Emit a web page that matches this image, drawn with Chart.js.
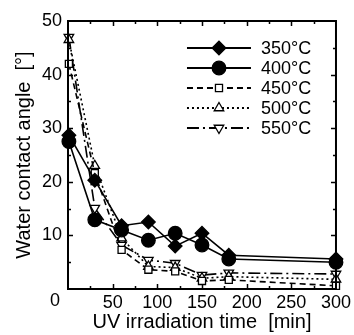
<!DOCTYPE html>
<html>
<head>
<meta charset="utf-8">
<script src="https://cdn.jsdelivr.net/npm/chart.js@4/dist/chart.umd.min.js"></script>
<style>
html,body{margin:0;padding:0;background:#fff;}
canvas{display:block;}
</style>
</head>
<body>
<canvas id="c" width="354" height="335"></canvas>
<script>
// ---- data ----
const times = [1, 30, 60, 90, 120, 150, 180, 300];
const seriesLabels = ['350°C', '400°C', '450°C', '500°C', '550°C'];
const s350 = [28.7, 20.3, 11.8, 12.5, 8.0, 10.4, 6.3, 5.6];
const s400 = [27.5, 12.9, 11.0, 9.1, 10.4, 8.2, 5.6, 5.0];
const s450 = [42.0, 21.6, 7.3, 3.6, 3.3, 1.5, 1.7, 0.6];
const s500 = [46.5, 23.0, 9.5, 4.2, 4.0, 2.0, 2.3, 1.8];
const s550 = [47.0, 15.1, 8.2, 5.4, 4.8, 2.6, 3.0, 2.8];
const xTicks = [0, 50, 100, 150, 200, 250, 300];
const yTicks = [0, 10, 20, 30, 40, 50];
const xTitle = 'UV irradiation time  [min]';
const yTitle = 'Water contact angle  [°]';

const FONT = '"Liberation Sans", Arial, sans-serif';
const pts = arr => arr.map((v, i) => ({x: times[i], y: v}));

const styles = [
  {dash: [], style: 'rectRot', fill: '#000', r: 6.8, rot: 0},
  {dash: [], style: 'circle', fill: '#000', r: 6.8, rot: 0},
  {dash: [6, 4], style: 'rect', fill: '#fff', r: 5, rot: 0},
  {dash: [2, 3], style: 'triangle', fill: '#fff', r: 5.5, rot: 0},
  {dash: [12, 4, 2, 4], style: 'triangle', fill: '#fff', r: 5.5, rot: 180}
];
const allSeries = [s350, s400, s450, s500, s550];

const datasets = allSeries.map((s, i) => ({
  label: seriesLabels[i],
  data: pts(s),
  borderColor: '#000',
  borderWidth: 1.6,
  borderDash: styles[i].dash,
  pointStyle: styles[i].style,
  pointRotation: styles[i].rot,
  pointRadius: styles[i].r,
  pointBackgroundColor: styles[i].fill,
  pointBorderColor: '#000',
  pointBorderWidth: 1.3,
  tension: 0,
  clip: false,
  fill: false
}));

const frameTicks = {
  id: 'frameTicks',
  afterDatasetsDraw(chart) {
    const ctx = chart.ctx;
    const a = chart.chartArea;
    const xs = chart.scales.x, ys = chart.scales.y;
    ctx.save();
    ctx.strokeStyle = '#000';
    ctx.lineWidth = 2;
    ctx.setLineDash([]);
    ctx.strokeRect(a.left, a.top, a.right - a.left, a.bottom - a.top);
    ctx.lineWidth = 1.5;
    ctx.beginPath();
    for (let v = 25; v < 300; v += 25) {
      const len = (v % 50 === 0) ? 5 : 3;
      const px = Math.round(xs.getPixelForValue(v)) + 0.5;
      ctx.moveTo(px, a.bottom); ctx.lineTo(px, a.bottom - len);
      ctx.moveTo(px, a.top); ctx.lineTo(px, a.top + len);
    }
    for (let v = 5; v < 50; v += 5) {
      const len = (v % 10 === 0) ? 5 : 3;
      const py = Math.round(ys.getPixelForValue(v)) + 0.5;
      ctx.moveTo(a.left, py); ctx.lineTo(a.left + len, py);
      ctx.moveTo(a.right, py); ctx.lineTo(a.right - len, py);
    }
    ctx.stroke();
    // shared origin label
    ctx.fillStyle = '#000';
    ctx.font = '18px ' + FONT;
    ctx.textAlign = 'center';
    ctx.textBaseline = 'middle';
    ctx.fillText(String(xTicks[0]), a.left - 13, a.bottom + 12);
    ctx.restore();
  }
};

const customLegend = {
  id: 'customLegend',
  afterDatasetsDraw(chart) {
    const ctx = chart.ctx;
    const a = chart.chartArea;
    const x0 = a.right - 149, x1 = a.right - 85, xm = (x0 + x1) / 2, xt = a.right - 75;
    ctx.save();
    chart.data.datasets.forEach((ds, i) => {
      const y = a.top + 27 + i * 20;
      ctx.strokeStyle = '#000';
      ctx.lineWidth = 1.8;
      ctx.setLineDash(ds.borderDash);
      ctx.beginPath();
      ctx.moveTo(x0, y); ctx.lineTo(x1, y);
      ctx.stroke();
      ctx.setLineDash([]);
      ctx.fillStyle = ds.pointBackgroundColor;
      ctx.lineWidth = ds.pointBorderWidth;
      Chart.helpers.drawPoint(ctx, {pointStyle: ds.pointStyle, radius: ds.pointRadius, borderWidth: ds.pointBorderWidth, rotation: ds.pointRotation}, xm, y);
      ctx.fillStyle = '#000';
      ctx.font = '18px ' + FONT;
      ctx.textAlign = 'left';
      ctx.textBaseline = 'middle';
      ctx.fillText(ds.label, xt, y + 1);
    });
    ctx.restore();
  }
};

new Chart(document.getElementById('c'), {
  type: 'line',
  data: {datasets},
  options: {
    responsive: false,
    animation: false,
    devicePixelRatio: 1,
    layout: {padding: {top: 21, right: 15, left: 0, bottom: 0}},
    plugins: {legend: {display: false}, tooltip: {enabled: false}},
    scales: {
      x: {
        type: 'linear', min: 0, max: 300,
        afterFit: s => { s.height = 46; },
        afterBuildTicks: s => { s.ticks = xTicks.map(v => ({value: v})); },
        grid: {display: false, drawTicks: false},
        border: {display: false},
        ticks: {
          padding: 3, color: '#000', maxRotation: 0, autoSkip: false,
          font: {family: FONT, size: 18},
          callback: v => v === 0 ? '' : String(v)
        },
        title: {display: true, text: xTitle, color: '#000', font: {family: FONT, size: 20}, padding: {top: 0, bottom: 1}}
      },
      y: {
        type: 'linear', min: 0, max: 50,
        afterFit: s => { s.width = 68; },
        afterBuildTicks: s => { s.ticks = yTicks.map(v => ({value: v})); },
        grid: {display: false, drawTicks: false},
        border: {display: false},
        ticks: {
          padding: 6, color: '#000', autoSkip: false,
          font: {family: FONT, size: 18},
          callback: v => v === 0 ? '' : String(v)
        },
        title: {display: true, text: yTitle, color: '#000', font: {family: FONT, size: 20}, padding: {top: 12, bottom: 0}}
      }
    }
  },
  plugins: [frameTicks, customLegend]
});
</script>
</body>
</html>
